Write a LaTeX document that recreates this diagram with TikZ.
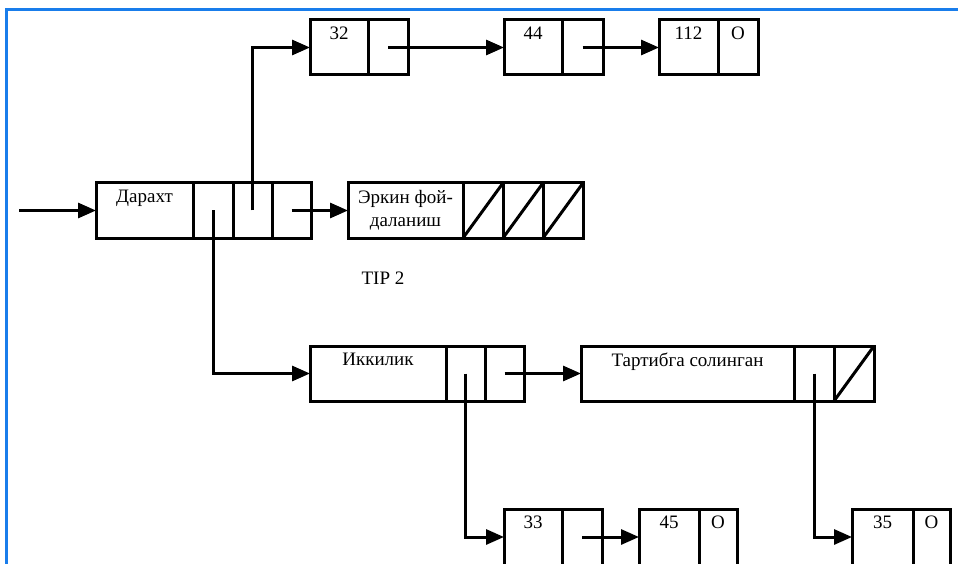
\documentclass[tikz,border=0pt]{standalone}
\usepackage{fontspec}
\setmainfont{Liberation Serif}
\usetikzlibrary{arrows.meta,positioning}
\definecolor{frameblue}{RGB}{25,125,235}

\begin{document}
\begin{tikzpicture}[x=1pt, y=-1pt,
cell/.style={draw, line width=3pt, anchor=north west, inner sep=0pt, outer sep=0pt, minimum height=55},
lowcell/.style={cell, minimum height=56},
celltext/.style={label={[anchor=north, inner sep=0pt, yshift=-7pt, align=center,
  font=\fontsize{19}{23}\selectfont]north:{#1}}},
arrow/.style={-{Triangle[length=18pt, width=15pt]}, line width=3pt},
nilline/.style={line width=3pt}
]

\path[use as bounding box, clip] (0,0) rectangle (958,564);
\draw[frameblue, line width=3pt] (6,570) -- (6,10) -- (958,10);

% top list
\node[cell, minimum width=58, celltext=32] (n32) at (310,20) {};
\node[cell, minimum width=40] (p32) at (368,20) {};
\node[cell, minimum width=58, celltext=44] (n44) at (504,20) {};
\node[cell, minimum width=41] (p44) at (562,20) {};
\node[cell, minimum width=59, celltext=112] (n112) at (659,20) {};
\node[cell, minimum width=40, celltext=O] (p112) at (718,20) {};

% tree node and free space
\node[cell, minimum width=97, celltext=Дарахт] (tree) at (96,183) {};
\node[cell, minimum width=40] (tree1) at (193,183) {};
\node[cell, minimum width=39] (tree2) at (233,183) {};
\node[cell, minimum width=39] (tree3) at (272,183) {};

\node[cell, minimum width=115, celltext={Эркин фой-\\даланиш}] (free) at (348,183) {};
\node[cell, minimum width=40] (free1) at (463,183) {};
\node[cell, minimum width=40] (free2) at (503,183) {};
\node[cell, minimum width=40] (free3) at (543,183) {};

\node (tip) at (383,278) {\fontsize{19}{22}\selectfont TIP 2};

% binary and sorted
\node[cell, minimum width=136, celltext=Иккилик] (bin) at (310,346) {};
\node[cell, minimum width=39] (bin1) at (446,346) {};
\node[cell, minimum width=39] (bin2) at (485,346) {};

\node[cell, minimum width=213, celltext={Тартибга солинган}] (sort) at (581,346) {};
\node[cell, minimum width=40] (sort1) at (794,346) {};
\node[cell, minimum width=40] (sort2) at (834,346) {};

% bottom lists
\node[lowcell, minimum width=58, celltext=33] (n33) at (504,509) {};
\node[lowcell, minimum width=40] (p33) at (562,509) {};
\node[lowcell, minimum width=60, celltext=45] (n45) at (639,509) {};
\node[lowcell, minimum width=38, celltext=O] (p45) at (699,509) {};
\node[lowcell, minimum width=61, celltext=35] (n35) at (852,509) {};
\node[lowcell, minimum width=37, celltext=O] (p35) at (913,509) {};

% empty pointers
\foreach \c in {free1, free2, free3, sort2} {
\draw[nilline] (\c.south west) -- (\c.north east);
}

\coordinate (start) at (19,210.5);

\draw[arrow] (start) -- (tree.west);
\draw[arrow] (tree2.center) |- (n32.west);
\draw[arrow] (p32.center) -- (n44.west);
\draw[arrow] (p44.center) -- (n112.west);
\draw[arrow] (tree3.center) -- (free.west);
\draw[arrow] (tree1.center) |- (bin.west);
\draw[arrow] (bin2.center) -- (sort.west);
\draw[arrow] (bin1.center) |- (n33.west);
\draw[arrow] (p33.center) -- (n45.west);
\draw[arrow] (sort1.center) |- (n35.west);

\end{tikzpicture}
\end{document}
